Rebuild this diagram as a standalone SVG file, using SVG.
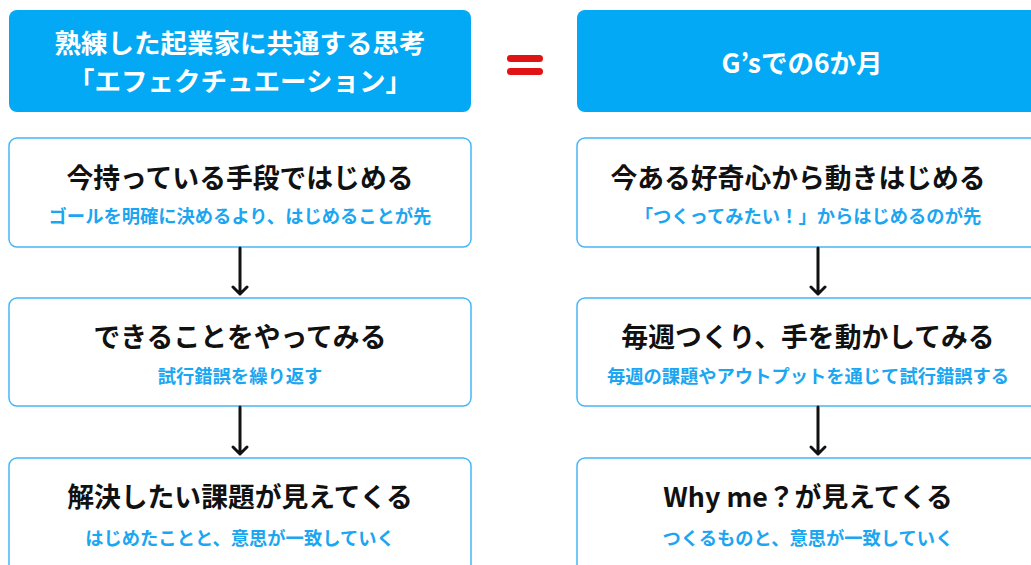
<svg xmlns="http://www.w3.org/2000/svg" width="1031" height="565" viewBox="0 0 1031 565">
<style>
.hdr{fill:#03A9F4;}
.box{fill:#ffffff;stroke:#47B6F6;stroke-width:1.5;}
.ht{font-family:"Noto Sans CJK JP","Noto Sans",sans-serif;font-weight:700;font-size:26.5px;fill:#ffffff;text-anchor:middle;dominant-baseline:central;}
.mt{font-family:"Noto Sans CJK JP","Noto Sans",sans-serif;font-weight:700;font-size:26.8px;fill:#111111;text-anchor:middle;dominant-baseline:central;}
.st{font-family:"Noto Sans CJK JP","Noto Sans",sans-serif;font-weight:700;font-size:18.3px;fill:#1BA6F2;text-anchor:middle;dominant-baseline:central;}
.arr{fill:none;stroke:#111111;stroke-width:3;stroke-linecap:round;stroke-linejoin:round;}
.eq{fill:#E01414;}
</style>
<rect width="1031" height="565" fill="#ffffff"/>
<g id="header-left">
<rect class="hdr" x="9" y="10" width="462" height="102" rx="8"/>
<text class="ht" x="240" y="41">熟練した起業家に共通する思考</text>
<text class="ht" x="240" y="79">「エフェクチュエーション」</text>
</g>
<g id="equals">
<rect class="eq" x="507" y="55" width="36" height="7" rx="3.5"/>
<rect class="eq" x="507" y="68" width="36" height="7" rx="3.5"/>
</g>
<g id="header-right">
<rect class="hdr" x="577" y="10" width="462" height="102" rx="8"/>
<text class="ht" x="802" y="61">G’sでの6か月</text>
</g>
<g id="left-1">
<rect class="box" x="9" y="138" width="462" height="109" rx="8"/>
<text class="mt" x="240" y="176">今持っている手段ではじめる</text>
<text class="st" x="240" y="215">ゴールを明確に決めるより、はじめることが先</text>
</g>
<g id="left-2">
<rect class="box" x="9" y="298" width="462" height="108" rx="8"/>
<text class="mt" x="240" y="335">できることをやってみる</text>
<text class="st" x="240" y="375">試行錯誤を繰り返す</text>
</g>
<g id="left-3">
<rect class="box" x="9" y="458" width="462" height="115" rx="8"/>
<text class="mt" x="240" y="495">解決したい課題が見えてくる</text>
<text class="st" x="240" y="537">はじめたことと、意思が一致していく</text>
</g>
<g id="right-1">
<rect class="box" x="577" y="138" width="462" height="109" rx="8"/>
<text class="mt" x="798" y="176">今ある好奇心から動きはじめる</text>
<text class="st" x="808" y="215">「つくってみたい！」からはじめるのが先</text>
</g>
<g id="right-2">
<rect class="box" x="577" y="298" width="462" height="108" rx="8"/>
<text class="mt" x="808" y="335">毎週つくり、手を動かしてみる</text>
<text class="st" x="808" y="375">毎週の課題やアウトプットを通じて試行錯誤する</text>
</g>
<g id="right-3">
<rect class="box" x="577" y="458" width="462" height="115" rx="8"/>
<text class="mt" x="808" y="495">Why me？が見えてくる</text>
<text class="st" x="808" y="537">つくるものと、意思が一致していく</text>
</g>
<g id="connectors">
<path class="arr" d="M240 248 V294 M233 287 L240 294 L247 287"/>
<path class="arr" d="M240 407 V454 M233 447 L240 454 L247 447"/>
<path class="arr" d="M818 248 V294 M811 287 L818 294 L825 287"/>
<path class="arr" d="M818 407 V454 M811 447 L818 454 L825 447"/>
</g>
</svg>
